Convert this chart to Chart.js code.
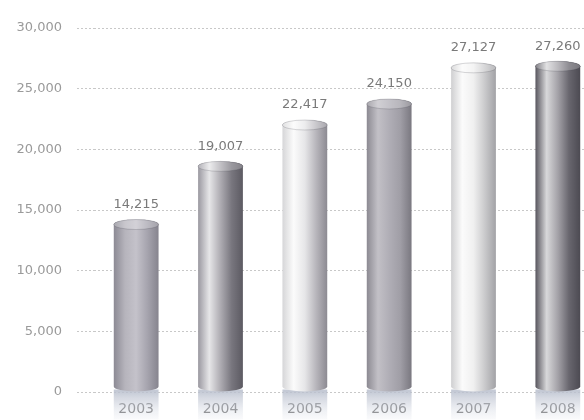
<!DOCTYPE html>
<html>
<head>
<meta charset="utf-8">
<script src="https://cdn.jsdelivr.net/npm/chart.js@4"></script>
<style>
  html, body { margin: 0; background: #fff; overflow: hidden; }
  #wrap { width: 600px; height: 420px; }
</style>
</head>
<body>
<div id="wrap"><canvas id="chart"></canvas></div>
<script>
var years = ['2003', '2004', '2005', '2006', '2007', '2008'];
var totals = [14215, 19007, 22417, 24150, 27127, 27260];
var yTicks = [0, 5000, 10000, 15000, 20000, 25000, 30000];

// left -> right shading of each cylinder
var barShades = [
  ['#8c8a94', '#b6b4bc', '#c4c2ca', '#a6a4ae', '#86848e'],
  ['#9a98a0', '#e6e6e8', '#aeacb2', '#78767e', '#5c5a62'],
  ['#d6d6d8', '#fbfbfb', '#e6e6e8', '#b8b6bc', '#8c8a92'],
  ['#8c8a92', '#c2c0c6', '#b0aeb6', '#a09ea6', '#7a7880'],
  ['#cfcfd1', '#fbfbfb', '#f0f0f0', '#cacacc', '#a2a2a6'],
  ['#58565e', '#d8d8da', '#a4a2a8', '#68666e', '#4c4a52']
];
var fontFamily = '"DejaVu Sans", sans-serif';

var cylinders = {
  id: 'cylinders',
  afterDatasetsDraw: function(chart) {
    var ctx = chart.ctx;
    var meta = chart.getDatasetMeta(0);
    meta.data.forEach(function(bar, i) {
      var w = bar.width, rx = w / 2, ry = 5;
      var left = bar.x - rx, right = bar.x + rx;
      var top = bar.y, base = bar.base;
      var stops = barShades[i];
      var g = ctx.createLinearGradient(left, 0, right, 0);
      stops.forEach(function(c, k) { g.addColorStop(k / (stops.length - 1), c); });
      ctx.save();
      // reflection under the bar
      var rg = ctx.createLinearGradient(0, base, 0, base + 28);
      rg.addColorStop(0, 'rgba(186,192,206,0.85)');
      rg.addColorStop(1, 'rgba(228,231,238,0.2)');
      ctx.fillStyle = rg;
      ctx.fillRect(left, base - 2, w, 30);
      // body
      ctx.beginPath();
      ctx.moveTo(left, top + ry);
      ctx.lineTo(left, base - ry);
      ctx.ellipse(bar.x, base - ry, rx, ry, 0, Math.PI, 0, true);
      ctx.lineTo(right, top + ry);
      ctx.ellipse(bar.x, top + ry, rx, ry, 0, 0, Math.PI, true);
      ctx.closePath();
      ctx.fillStyle = g;
      ctx.fill();
      // top cap
      ctx.beginPath();
      ctx.ellipse(bar.x, top + ry, rx, ry, 0, 0, Math.PI * 2);
      ctx.fillStyle = g;
      ctx.fill();
      ctx.fillStyle = 'rgba(255,255,255,0.25)';
      ctx.fill();
      ctx.strokeStyle = 'rgba(60,60,70,0.2)';
      ctx.lineWidth = 1;
      ctx.stroke();
      // value label
      ctx.fillStyle = '#7a7a7a';
      ctx.font = '13px ' + fontFamily;
      ctx.textAlign = 'center';
      ctx.textBaseline = 'middle';
      ctx.fillText(totals[i].toLocaleString('en-US'), bar.x, top - 15);
      ctx.restore();
    });
  }
};

new Chart(document.getElementById('chart'), {
  type: 'bar',
  data: {
    labels: years,
    datasets: [{
      data: totals,
      backgroundColor: 'rgba(0,0,0,0)',
      barPercentage: 0.9,
      categoryPercentage: 0.59
    }]
  },
  options: {
    responsive: true,
    maintainAspectRatio: false,
    animation: false,
    layout: { padding: { top: 28, right: 0, left: 0, bottom: 0 } },
    plugins: { legend: { display: false }, tooltip: { enabled: false } },
    scales: {
      x: {
        offset: true,
        z: 1,
        grid: { display: false },
        border: { display: false },
        ticks: { color: '#6a6a6a', padding: 1, font: { family: fontFamily, size: 14 } },
        afterFit: function(s) { s.height = 28; }
      },
      y: {
        min: 0,
        max: 30000,
        afterBuildTicks: function(s) { s.ticks = yTicks.map(function(v) { return { value: v }; }); },
        grid: { color: '#c8c8c8', tickColor: '#c8c8c8', tickLength: 17, tickBorderDash: [2, 2] },
        border: { display: false, dash: [2, 2] },
        ticks: { color: '#9a9a9a', padding: 15, font: { family: fontFamily, size: 13 } },
        afterFit: function(s) { s.width = 94; }
      }
    }
  },
  plugins: [cylinders]
});
</script>
</body>
</html>
